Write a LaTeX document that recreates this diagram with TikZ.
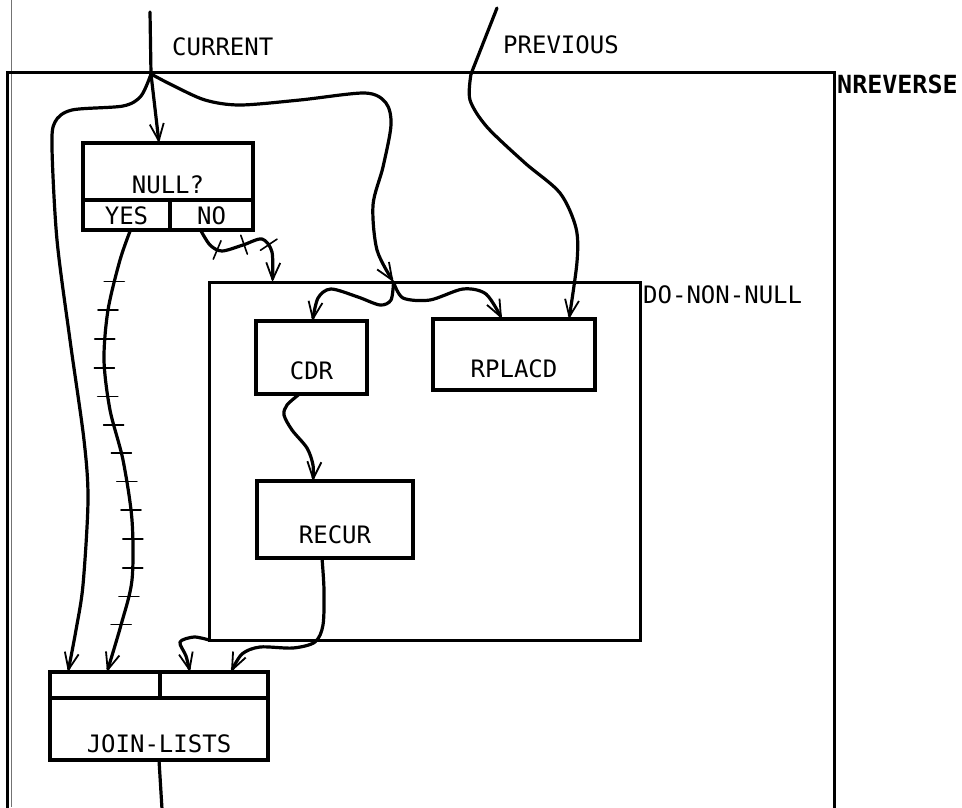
\documentclass[tikz,border=0pt]{standalone}
\usepackage{fontspec}
\newfontfamily\plotfont{DejaVu Sans Mono}
\usetikzlibrary{arrows.meta, positioning, decorations.markings}
\tikzset{
  boxframe/.style={rectangle, draw=black, line width=3pt, outer sep=0pt, inner sep=0pt},
  block/.style={rectangle, draw=black, line width=3.2pt, outer sep=0pt, inner sep=0pt, font=\plotfont\fontsize{24}{24}\selectfont},
  cell/.style={block, text height=24pt, text depth=6pt},
  slot/.style={block, minimum height=26pt},
  lbl/.style={inner sep=0pt, font=\plotfont\fontsize{24}{24}\selectfont},
  wire/.style={line width=3.2pt, line cap=round, line join=round},
  arrow/.style={wire, -{Straight Barb[length=17pt, width=14pt, line width=1.8pt 0]}},
  ticked/.style={postaction={decorate}, decoration={markings, mark=between positions #1 step 29pt with {\pgftransformresetnontranslations \draw[-, line width=1.6pt] (-10pt,0pt) -- (10pt,0pt);}}},
  crossed/.style={postaction={decorate}, decoration={markings, mark=between positions #1 step 28pt with {\draw[-, line width=1.6pt] (0pt,-10pt) -- (0pt,10pt);}}}
}

\begin{document}
\begin{tikzpicture}[x=1pt, y=-1pt, node distance=0pt]
  \useasboundingbox (0,0) rectangle (962,807);
  \clip (0,0) rectangle (962,807);

  \draw[line width=0.8pt, black!55] (11,0) -- (11,807);

  % outer function and the block inside it
  \node (nrev) [boxframe, minimum width=827pt, minimum height=760pt] at (420.5,452) {};
  \node (nrevlbl) [lbl, font=\plotfont\bfseries\fontsize{25}{25}\selectfont, anchor=north west, xshift=3pt, yshift=-3pt] at (nrev.north east) {NREVERSE};
  \node (dnn) [boxframe, minimum width=431pt, minimum height=358pt] at (424.5,461) {};
  \node (dnnlbl) [lbl, anchor=north west, xshift=3pt, yshift=-3pt] at (dnn.north east) {DO-NON-NULL};

  \node (curlbl) [lbl, anchor=base west] at (172,55) {CURRENT};
  \node (prevlbl) [lbl, anchor=base west] at (503,53) {PREVIOUS};

  \node (null) [block, minimum width=170pt, text height=50pt, text depth=7pt] at (168,171.5) {NULL?};
  \node (yes) [cell, minimum width=87pt, below right=0pt and 0pt of null.south west] {YES};
  \node (no) [cell, minimum width=83pt, right=of yes] {NO};

  \node (cdr) [block, minimum width=111pt, text height=58pt, text depth=15pt] at (311.5,357.5) {CDR};
  \node (rplacd) [block, minimum width=162pt, text height=58pt, text depth=13pt] at (514,354.5) {RPLACD};
  \node (recur) [block, minimum width=156pt, text height=62pt, text depth=15pt] at (335,519.5) {RECUR};

  \node (jin1) [slot, minimum width=110pt] at (105,685) {};
  \node (jin2) [slot, minimum width=108pt, right=of jin1] {};
  \node (join) [block, minimum width=218pt, text height=54pt, text depth=8pt, below right=0pt and 0pt of jin1.south west] {JOIN-LISTS};

  % ends of the wires
  \coordinate (curtop) at (150,12);
  \coordinate (cur) at (151,74);
  \coordinate (prevtop) at (497,8);
  \coordinate (prev) at (471,74);
  \coordinate (out) at (162,809);
  \coordinate (nullin) at ([xshift=-9pt]null.north);
  \coordinate (yesout) at ([xshift=4pt]yes.south);
  \coordinate (noout) at ([xshift=-11pt]no.south);
  \coordinate (dnnno) at ([xshift=-152pt]dnn.north);
  \coordinate (dnncur) at ([xshift=-31pt]dnn.north);
  \coordinate (cdrin) at ([xshift=1pt]cdr.north);
  \coordinate (cdrout) at ([xshift=-12pt]cdr.south);
  \coordinate (rpin1) at ([xshift=-12pt]rplacd.north);
  \coordinate (rpin2) at ([xshift=55pt]rplacd.north);
  \coordinate (recin) at ([xshift=-22pt]recur.north);
  \coordinate (recout) at ([xshift=-13pt]recur.south);
  \coordinate (jA) at ([xshift=18pt]jin1.north west);
  \coordinate (jB) at ([xshift=57pt]jin1.north west);
  \coordinate (jC) at ([xshift=30pt]jin2.north west);
  \coordinate (jD) at ([xshift=71pt]jin2.north west);

  \draw[wire] (curtop) -- (cur);
  \draw[wire] (prevtop) -- (prev);
  \draw[arrow] (cur) -- (nullin);
  \draw[arrow] plot[smooth] coordinates {(cur) (141,96) (123,106) (72,110) (55,122) (52,148) (57,240) (70,340) (84,440) (88,500) (83,585) (76,630) (jA)};
  \draw[arrow] plot[smooth] coordinates {(cur) (172,85) (205,100) (240,105) (300,100) (365,93) (386,103) (391,125) (383,167) (373,205) (377,250) (dnncur)};
  \draw[arrow, ticked={0.12 and 0.95}] plot[smooth] coordinates {(yesout) (120,260) (108,310) (104,360) (110,410) (123,460) (132,520) (132,580) (121,625) (jB)};
  \draw[arrow, crossed={0.22 and 0.78}] plot[smooth] coordinates {(noout) (210,245) (222,251) (243,245) (262,239) (272,252) (dnnno)};
  \draw[arrow] plot[smooth] coordinates {(dnncur) (391,300) (380,305) (358,297) (331,289) (318,298) (cdrin)};
  \draw[arrow] plot[smooth] coordinates {(dnncur) (403,298) (430,300) (463,289) (486,294) (rpin1)};
  \draw[arrow] plot[smooth] coordinates {(prev) (470,100) (487,127) (525,163) (560,193) (576,228) (577,262) (rpin2)};
  \draw[arrow] plot[smooth] coordinates {(cdrout) (287,405) (284,415) (292,430) (307,448) (313,465) (recin)};
  \draw[arrow] plot[smooth] coordinates {(recout) (324,590) (323,625) (315,642) (293,648) (260,647) (242,654) (jD)};
  \draw[arrow] plot[smooth] coordinates {(dnn.south west) (194,637) (180,642) (186,656) (jC)};
  \draw[wire] (join.south) -- (out);

\end{tikzpicture}
\end{document}
